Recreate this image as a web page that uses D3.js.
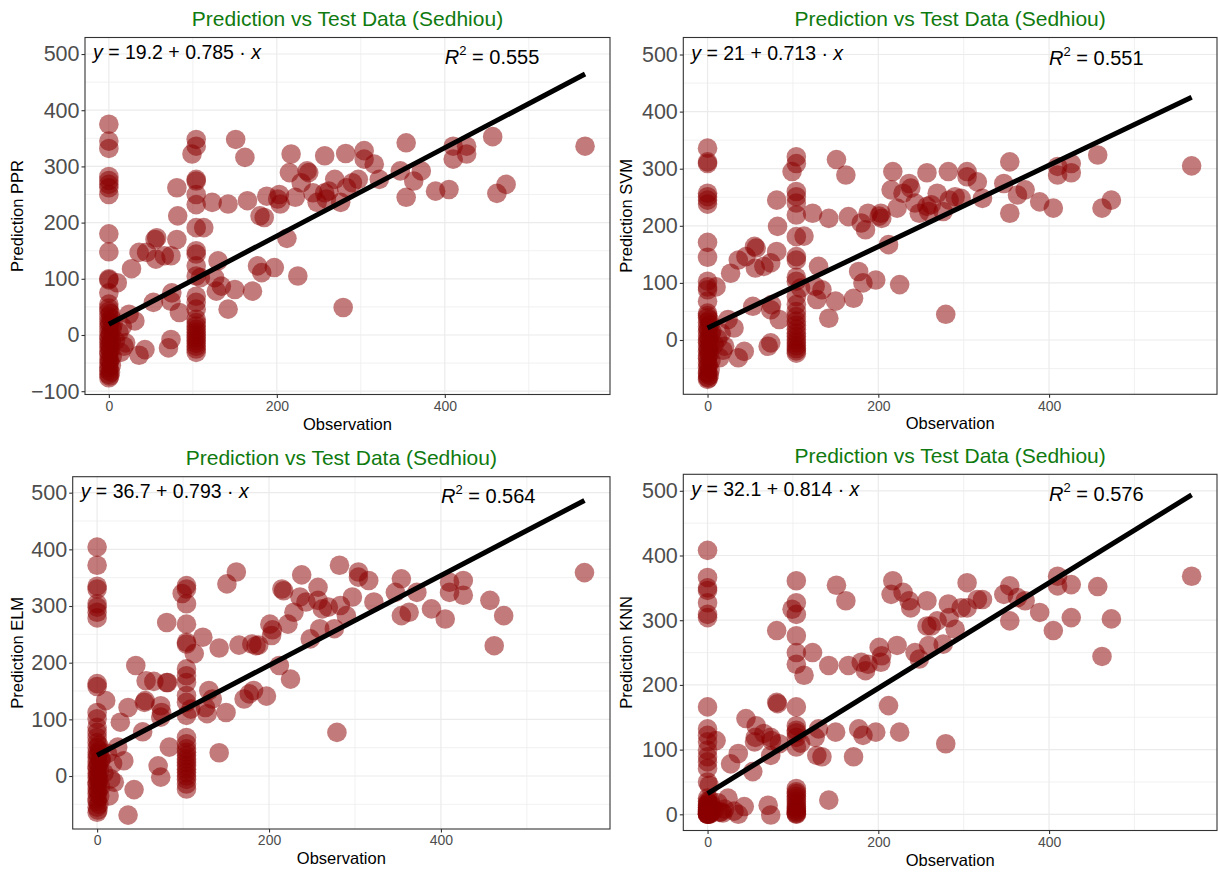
<!DOCTYPE html>
<html>
<head>
<meta charset="utf-8">
<script src="https://cdn.jsdelivr.net/npm/d3@7"></script>
<style>
  body { margin: 0; background: #ffffff; }
  svg text { font-family: "Liberation Sans", Arial, Helvetica, sans-serif; }
</style>
</head>
<body>
<svg id="chart" width="1218" height="872"></svg>
<script>
// Observed test values (shared by all four models)
const observed = [
  // zero-valued observations
  0,0,0,0,0,0,0,0,0,0,0,0,0,0,0,
  0,2,0,3,0,1,0,4,0,2,0,0,3,0,1,
  0,2,0,0,4,0,1,0,3,0,0,2,0,1,0,
  // small observations
  10,27,36,43,31,24,20,14,5,8,12,16,18,
  // 35 - 85
  36,45,55,57,56,53,66,74,75,74,84,71,74,81,82,81,
  // cluster around 104
  104,104,99,104,104,104,104,104,104,104,104,104,109,104,
  104,104,104,104,104,104,104,104,104,104,104,104,104,104,
  // remaining observations
  113,123,142,130,126,134,128,150,142,151,162,165,177,182,171,180,185,188,197,201,
  203,204,212,217,215,222,225,229,236,238,243,248,257,257,262,259,269,276,279,282,
  283,290,297,304,304,316,322,347,354,354,363,372,389,405,410,410,426,426,457,462,
  473,567
];

const predPPR = [
  375,345,332,282,275,268,262,250,180,148,100,98,75,55,48,
  42,38,33,29,24,20,15,11,6,2,-2,-7,-10,-14,-18,
  -22,-27,-30,-34,-38,-43,-46,-50,-54,-58,-63,-66,-70,-73,-76,
  93,118,-36,-26,25,37,-14,-31,20,-10,5,15,-20,
  147,147,170,173,135,58,141,141,75,60,40,-23,-8,170,212,262,
  348,336,322,277,274,250,232,191,150,144,123,105,102,69,
  58,46,28,22,16,10,5,0,-5,-10,-15,-20,-25,-31,
  191,236,233,132,102,87,78,81,46,348,316,239,123,111,78,212,209,247,120,242,
  250,233,172,322,289,245,105,271,292,289,253,236,319,253,256,242,277,236,49,323,
  262,271,277,328,313,304,277,292,342,245,274,292,256,259,336,313,336,322,353,252,
  268,336
];

const predSVM = [
  336,312,309,257,251,245,238,171,145,103,93,88,68,47,43,
  39,35,31,27,23,19,15,11,7,3,0,-4,-8,-12,-16,
  -20,-24,-28,-32,-36,-40,-44,-48,-52,-56,-59,-62,-65,-67,-69,
  93,117,-31,-20,21,36,-11,-31,15,-8,2,12,-18,
  140,146,164,161,126,59,129,135,62,53,36,-11,-5,155,199,245,
  321,309,295,260,251,240,219,181,146,140,110,103,91,76,
  62,50,41,33,26,19,12,6,0,-5,-10,-15,-19,-23,
  182,222,213,129,94,88,71,68,38,316,289,216,120,100,73,205,193,222,105,217,
  222,213,167,295,263,231,97,257,274,266,240,222,293,234,237,225,257,225,45,295,
  245,251,248,295,286,277,248,274,312,222,254,263,242,231,304,289,309,293,324,231,
  245,305
];

const predELM = [
  404,372,335,330,304,298,289,279,163,158,112,101,86,77,68,
  59,54,50,45,41,37,33,29,25,21,17,13,9,5,1,
  -3,-7,-11,-15,-19,-23,-27,-31,-35,-40,-45,-50,-55,-60,-64,
  133,95,-69,-24,27,51,-11,-35,30,5,40,-5,22,
  121,195,130,168,133,78,167,124,112,104,51,18,-2,165,165,271,
  336,330,322,304,268,236,233,189,177,165,142,130,118,107,
  68,57,48,42,36,30,24,18,12,6,0,-6,-14,-23,
  216,245,226,151,121,136,110,112,41,339,360,231,145,151,136,233,230,231,141,268,
  248,258,195,327,330,268,171,289,316,355,307,242,333,310,295,260,298,260,77,372,
  301,283,316,360,351,345,307,324,348,283,289,324,295,277,342,324,345,319,310,230,
  283,359
];

const predKNN = [
  408,366,350,346,327,309,304,166,132,122,112,99,89,81,71,
  50,45,25,22,20,18,16,15,14,12,11,10,9,8,7,
  6,5,5,4,3,3,2,2,1,1,0,0,0,0,0,
  114,78,0,12,5,25,8,3,10,6,18,4,2,
  94,148,112,137,119,66,125,119,114,91,109,14,-1,173,171,284,
  361,327,317,309,276,250,232,166,137,130,126,119,110,104,
  40,35,32,28,24,20,16,12,9,6,4,2,1,0,
  215,250,230,132,119,89,91,127,22,354,330,230,132,122,89,235,222,232,127,258,
  235,245,168,361,340,261,127,343,330,319,250,240,330,291,291,261,299,263,109,325,
  304,286,319,358,319,332,332,340,353,299,335,330,312,284,368,353,355,304,352,244,
  302,368
];

// Model names, fitted line coefficients and R-squared labels
const models = ["PPR", "SVM", "ELM", "KNN"];
const intercepts = [19.2, 21, 36.7, 32.1];
const slopes = [0.785, 0.713, 0.793, 0.814];
const rSquared = ["0.555", "0.551", "0.564", "0.576"];
const xTicks = [0, 200, 400];
const yTicks = [-100, 0, 100, 200, 300, 400, 500];

const predictions = [predPPR, predSVM, predELM, predKNN];
const titleText = "Prediction vs Test Data (Sedhiou)";

// Panel frames and value ranges
const panels = [
  { ox: 0,   left: 85,    right: 610,  top: 37.5,  bottom: 394.5, ymin: -105.9, ymax: 529.4 },
  { ox: 609, left: 683.3, right: 1217, top: 37.5,  bottom: 394.3, ymin: -95.1,  ymax: 529.8 },
  { ox: 0,   left: 72.7,  right: 610,  top: 476.7, bottom: 829,   ymin: -93.5,  ymax: 528.2 },
  { ox: 609, left: 683.3, right: 1217, top: 474.3, bottom: 830.5, ymin: -25.0,  ymax: 525.5 }
];

const svg = d3.select("#chart");
const xDomain = [-28.4, 596.7];
const gridColor = "#EBEBEB";
const pointColor = "#8B0000";

panels.forEach((p, i) => {
  const pred = predictions[i];
  const x = d3.scaleLinear().domain(xDomain).range([p.left, p.right]);
  const y = d3.scaleLinear().domain([p.ymin, p.ymax]).range([p.bottom, p.top]);
  const g = svg.append("g");

  // panel background
  g.append("rect")
    .attr("x", p.left).attr("y", p.top)
    .attr("width", p.right - p.left).attr("height", p.bottom - p.top)
    .attr("fill", "#ffffff");

  const visY = yTicks.filter(t => t >= p.ymin && t <= p.ymax);
  const minorY = d3.range(-150, 551, 100).filter(t => t > p.ymin && t < p.ymax);
  const minorX = [100, 300, 500].filter(t => t > xDomain[0] && t < xDomain[1]);

  // minor grid
  g.selectAll(".mgy").data(minorY).join("line")
    .attr("x1", p.left).attr("x2", p.right)
    .attr("y1", d => y(d)).attr("y2", d => y(d))
    .attr("stroke", gridColor).attr("stroke-width", 0.7);
  g.selectAll(".mgx").data(minorX).join("line")
    .attr("y1", p.top).attr("y2", p.bottom)
    .attr("x1", d => x(d)).attr("x2", d => x(d))
    .attr("stroke", gridColor).attr("stroke-width", 0.7);
  // major grid
  g.selectAll(".gy").data(visY).join("line")
    .attr("x1", p.left).attr("x2", p.right)
    .attr("y1", d => y(d)).attr("y2", d => y(d))
    .attr("stroke", gridColor).attr("stroke-width", 1.2);
  g.selectAll(".gx").data(xTicks).join("line")
    .attr("y1", p.top).attr("y2", p.bottom)
    .attr("x1", d => x(d)).attr("x2", d => x(d))
    .attr("stroke", gridColor).attr("stroke-width", 1.2);

  // points
  g.append("g").selectAll("circle")
    .data(observed.map((o, k) => [o, pred[k]]))
    .join("circle")
    .attr("cx", d => x(d[0]))
    .attr("cy", d => y(d[1]))
    .attr("r", 9.8)
    .attr("fill", pointColor)
    .attr("fill-opacity", 0.52);

  // fitted line
  const xMax = d3.max(observed);
  g.append("line")
    .attr("x1", x(0)).attr("y1", y(intercepts[i]))
    .attr("x2", x(xMax)).attr("y2", y(intercepts[i] + slopes[i] * xMax))
    .attr("stroke", "#000000").attr("stroke-width", 5);

  // equation label
  const eq = g.append("text")
    .attr("x", p.left + 8).attr("y", y(500) + 5)
    .attr("font-size", 19.5).attr("fill", "#000000");
  eq.append("tspan").attr("font-style", "italic").text("y");
  eq.append("tspan").text(" = " + intercepts[i] + " + " + slopes[i] + " \u00B7 ");
  eq.append("tspan").attr("font-style", "italic").text("x");

  // R-squared label
  const r2 = g.append("text")
    .attr("x", x(400)).attr("y", y(500) + 10)
    .attr("font-size", 20).attr("fill", "#000000");
  r2.append("tspan").attr("font-style", "italic").text("R");
  r2.append("tspan").attr("font-size", 13).attr("dy", -9).text("2");
  r2.append("tspan").attr("dy", 9).text(" = " + rSquared[i]);

  // panel border
  g.append("rect")
    .attr("x", p.left).attr("y", p.top)
    .attr("width", p.right - p.left).attr("height", p.bottom - p.top)
    .attr("fill", "none").attr("stroke", "#333333").attr("stroke-width", 1.1);

  // axes
  const yAxis = d3.axisLeft(y).tickValues(visY).tickSize(3.5).tickSizeOuter(0).tickPadding(2);
  const gy = g.append("g").attr("transform", `translate(${p.left},0)`).call(yAxis);
  gy.select(".domain").remove();
  gy.selectAll(".tick line").attr("stroke", "#333333").attr("stroke-width", 1.1);
  gy.selectAll(".tick text")
    .attr("fill", "#4D4D4D").attr("font-size", 21.5)
    .style("font-family", "Liberation Sans, Arial, sans-serif");

  const xAxis = d3.axisBottom(x).tickValues(xTicks).tickSize(3.5).tickSizeOuter(0).tickPadding(3);
  const gx = g.append("g").attr("transform", `translate(0,${p.bottom})`).call(xAxis);
  gx.select(".domain").remove();
  gx.selectAll(".tick line").attr("stroke", "#333333").attr("stroke-width", 1.1);
  gx.selectAll(".tick text")
    .attr("fill", "#4D4D4D").attr("font-size", 14)
    .style("font-family", "Liberation Sans, Arial, sans-serif");

  // axis titles
  g.append("text")
    .attr("x", (p.left + p.right) / 2).attr("y", p.bottom + 35)
    .attr("text-anchor", "middle").attr("font-size", 16.5).attr("fill", "#000000")
    .text("Observation");
  g.append("text")
    .attr("transform", `translate(${p.ox + 23},${(p.top + p.bottom) / 2}) rotate(-90)`)
    .attr("text-anchor", "middle").attr("font-size", 16.5).attr("fill", "#000000")
    .text("Prediction " + models[i]);

  // panel title
  g.append("text")
    .attr("x", (p.left + p.right) / 2).attr("y", p.top - 11.5)
    .attr("text-anchor", "middle").attr("font-size", 21).attr("fill", "#0F7A0F")
    .text(titleText);
});
</script>
</body>
</html>
